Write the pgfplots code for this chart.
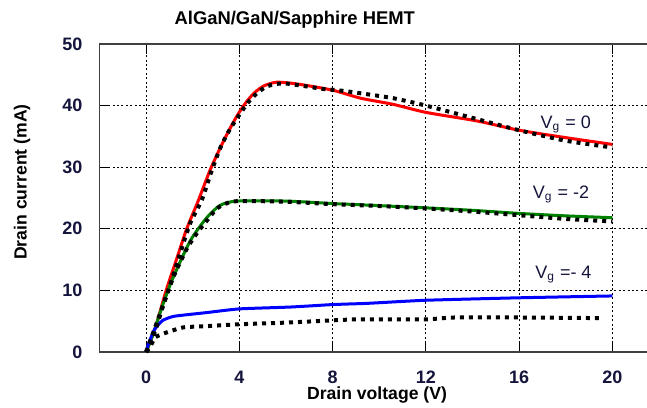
\documentclass[border=0pt]{standalone}
\usepackage{fontspec}
\setmainfont{Liberation Sans}
\usepackage{pgfplots}
\pgfplotsset{compat=1.18}
\definecolor{lblue}{RGB}{20,20,60}
\definecolor{cgreen}{RGB}{0,128,0}
\begin{document}
\begin{tikzpicture}
\useasboundingbox (-49.75pt,-27.5pt) rectangle (273.75pt,176pt);
\begin{axis}[
  scale only axis, width=279.75pt, height=154pt,
  xmin=-2, xmax=22, ymin=0, ymax=50,
  xtick={0,4,8,12,16,20}, ytick={0,10,20,30,40,50},
  tick align=inside, major tick length=5pt,
  tick style={black, line width=0.6pt},
  axis line style={black!75, line width=0.6pt},
  grid=major,
  major grid style={black, line width=0.5pt, dash pattern=on 1pt off 1.2pt},
  /pgf/number format/assume math mode=true,
  tick label style={font=\bfseries\fontsize{9}{10}\selectfont, text=lblue},
  xticklabel style={yshift=-6pt},
  yticklabel style={xshift=-5pt},
  every axis title shift=0pt,
  title={AlGaN/GaN/Sapphire HEMT},
  title style={font=\bfseries\fontsize{9.2}{10}\selectfont, at={(axis description cs:0.349,1.078)}, anchor=center},
  xlabel={Drain voltage (V)},
  xlabel style={font=\bfseries\fontsize{8.8}{10}\selectfont, at={(axis description cs:0.496,-0.14)}, anchor=center},
  ylabel={Drain current (mA)},
  ylabel style={font=\bfseries\fontsize{8.8}{10}\selectfont, at={(axis description cs:-0.1385,0.552)}, anchor=center, rotate=0},
  clip=false,
]
% Vg = 0 simulation
\addplot[red, line width=1.5pt, mark=none, smooth, tension=0.4] coordinates {
(0,0) (0.4,4) (0.86,10) (1.3,15) (1.74,20) (2.23,24.5) (2.74,29.5) (3.2,33.3)
(3.6,36.3) (3.94,38.6) (4.3,40.6) (4.65,42.1) (5.05,43.2) (5.6,43.8) (6.5,43.5)
(8,42.5) (9.2,41.2) (10.6,40.2) (12,38.9) (14.2,37.5) (16,36.0) (18,34.8) (20,33.7)};
% Vg = -2 simulation
\addplot[cgreen, line width=1.5pt, mark=none, smooth, tension=0.4] coordinates {
(0,0) (0.3,2.9) (0.7,7.5) (1.16,12.1) (1.9,18.1) (2.6,21.8) (3.17,23.8) (3.9,24.5)
(6,24.5) (8,24.1) (9.2,23.9) (12,23.4) (14,23.0) (16,22.5) (18,22.1) (20,21.8)};
% Vg = -4 simulation
\addplot[blue, line width=1.5pt, mark=none, smooth, tension=0.3] coordinates {
(0,0) (0.1,1.3) (0.35,3.6) (0.7,5.1) (1.2,5.8) (2.6,6.4) (4,7.0) (6.2,7.3)
(8,7.7) (9.5,7.9) (12,8.4) (16,8.8) (20,9.1)};
% measurements
\addplot[black, line width=2pt, dash pattern=on 2pt off 2.5pt, mark=none, smooth, tension=0.4] coordinates {
(0,0) (0.5,5.2) (1.0,10.5) (1.46,16.0) (1.89,20.9) (2.39,24.7) (2.8,29.3) (3.2,33.3)
(3.6,36.2) (4.0,38.5) (4.37,40.5) (4.78,42.1) (5.17,43.1) (5.57,43.5) (5.96,43.6)
(6.73,43.2) (7.6,42.7) (8.44,42.4) (9.2,42.0) (10.6,41.2) (12,40.0) (14.2,37.8)
(16,36.0) (18,34.3) (20,33.2)};
\addplot[black, line width=2pt, dash pattern=on 2pt off 2.5pt, mark=none, smooth, tension=0.4] coordinates {
(0,0) (0.4,3.5) (0.7,7.2) (1.16,12.1) (1.75,16.8) (2.2,19.4) (2.6,21.3) (3.04,23.3)
(3.5,24.2) (4,24.5) (6,24.4) (8,24.0) (10,23.7) (12,23.3) (14,22.8) (16,22.2)
(18,21.6) (20,21.2)};
\addplot[black, line width=2pt, dash pattern=on 2pt off 2.5pt, mark=none, smooth, tension=0.3] coordinates {
(0,0) (0.17,0.8) (0.4,2.4) (0.9,3.2) (1.6,4.0) (2.6,4.2) (4,4.5) (6.2,4.8)
(9,5.3) (12,5.3) (13.2,5.6) (16,5.6) (19.6,5.5)};
\node[font=\fontsize{9}{10}\selectfont, text=lblue] at (axis cs:18.0,36.9) {V\textsubscript{g} = 0};
\node[font=\fontsize{9}{10}\selectfont, text=lblue] at (axis cs:17.8,25.5) {V\textsubscript{g} = -2};
\node[font=\fontsize{9}{10}\selectfont, text=lblue] at (axis cs:17.9,12.5) {V\textsubscript{g} =- 4};
\end{axis}
\end{tikzpicture}
\end{document}
